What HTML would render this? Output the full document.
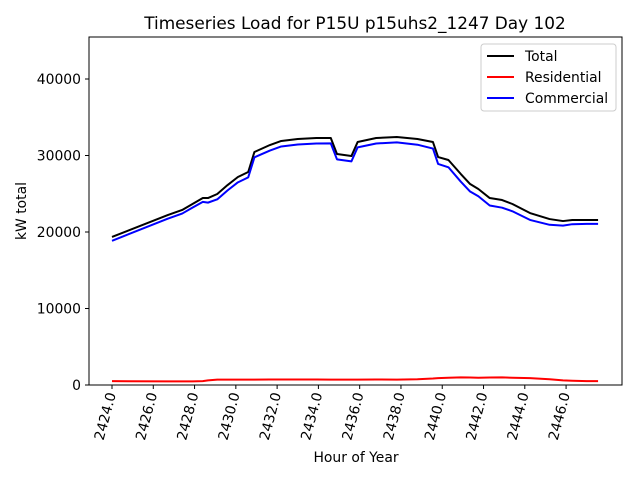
<!DOCTYPE html>
<html><head><meta charset="utf-8"><style>
body{margin:0;background:#fff;}
svg{display:block;font-family:"DejaVu Sans","Liberation Sans",sans-serif;}
</style></head><body>
<svg id="chart" width="640" height="480">
<rect x="0" y="0" width="640" height="480" fill="#fff"/>
<text x="355" y="29" font-size="16.9" text-anchor="middle">Timeseries Load for P15U p15uhs2_1247  Day 102</text>
<g id="plot"></g>
<rect x="89" y="37" width="533" height="348" fill="none" stroke="#000" stroke-width="1"/>
<text x="356" y="462" font-size="13.9" text-anchor="middle">Hour of Year</text>
<text transform="translate(26,211) rotate(-90)" font-size="13.9" text-anchor="middle">kW total</text>
<g>
<rect x="481" y="44" width="135" height="67" rx="3" fill="#fff" stroke="#ccc"/>
<line x1="487" y1="56" x2="514" y2="56" stroke="#000" stroke-width="2"/>
<text x="525" y="61" font-size="13.9">Total</text>
<line x1="487" y1="77" x2="514" y2="77" stroke="#f00" stroke-width="2"/>
<text x="525" y="82" font-size="13.9">Residential</text>
<line x1="487" y1="98" x2="514" y2="98" stroke="#00f" stroke-width="2"/>
<text x="525" y="103" font-size="13.9">Commercial</text>
</g>
</svg>
<script>
const hours=[2424.0,2426.7,2427.4,2427.9,2428.4,2428.65,2429.1,2429.6,2430.1,2430.6,2430.9,2431.65,2432.2,2433.0,2433.9,2434.6,2434.9,2435.6,2435.9,2436.8,2437.8,2438.8,2439.55,2439.8,2440.3,2440.9,2441.35,2441.75,2442.3,2442.9,2443.4,2444.25,2445.2,2445.85,2446.3,2447.0,2447.55];
const total=[19350,22220,22880,23660,24440,24440,24970,26140,27190,27840,30460,31370,31900,32160,32290,32290,30200,29930,31760,32290,32420,32160,31760,29800,29410,27580,26270,25620,24440,24180,23660,22480,21690,21430,21570,21570,21570];
const residential=[500,480,470,480,500,600,700,700,700,700,700,720,720,720,720,700,700,700,700,720,700,750,850,900,950,1000,980,950,980,1000,950,900,750,600,550,500,500];
const commercial=[18850,21740,22410,23180,23940,23840,24270,25440,26490,27140,29760,30650,31180,31440,31570,31590,29500,29230,31060,31570,31720,31410,30910,28900,28460,26580,25290,24670,23460,23180,22710,21580,20940,20830,21020,21070,21070];
const xTicks=[2424,2426,2428,2430,2432,2434,2436,2438,2440,2442,2444,2446];
const yTicks=[0,10000,20000,30000,40000];
const X=h=>112+(h-2424)*20.64;
const Y=v=>385-v*0.00765;
const NS="http://www.w3.org/2000/svg";
const g=document.getElementById('plot');
function mk(t,a){const e=document.createElementNS(NS,t);for(const k in a)e.setAttribute(k,a[k]);g.appendChild(e);return e;}
xTicks.forEach(t=>{
  const x=X(t);
  const l=mk('line',{x1:x,y1:385,x2:x,y2:389,stroke:'#000'});
  
  
  const tx=mk('text',{x:0,y:0,'font-size':13.9,'text-anchor':'end',transform:`translate(${x+4},${394}) rotate(-75)`});
  tx.textContent=t.toFixed(1);
  
  
});
yTicks.forEach(t=>{
  const y=Y(t);
  const l=mk('line',{x1:85,y1:y,x2:89,y2:y,stroke:'#000'});
  
  
  const tx=mk('text',{x:81,y:y+5,'font-size':13.9,'text-anchor':'end'});
  tx.textContent=t;
  
  
});
function line(vals,color,name){
  const p=mk('polyline',{points:vals.map((v,i)=>X(hours[i])+','+Y(v)).join(' '),fill:'none',stroke:color,'stroke-width':2,'stroke-linejoin':'round'});
  
  
}
line(total,'#000','total-line');
line(residential,'#f00','residential-line');
line(commercial,'#00f','commercial-line');
</script>
</body></html>
